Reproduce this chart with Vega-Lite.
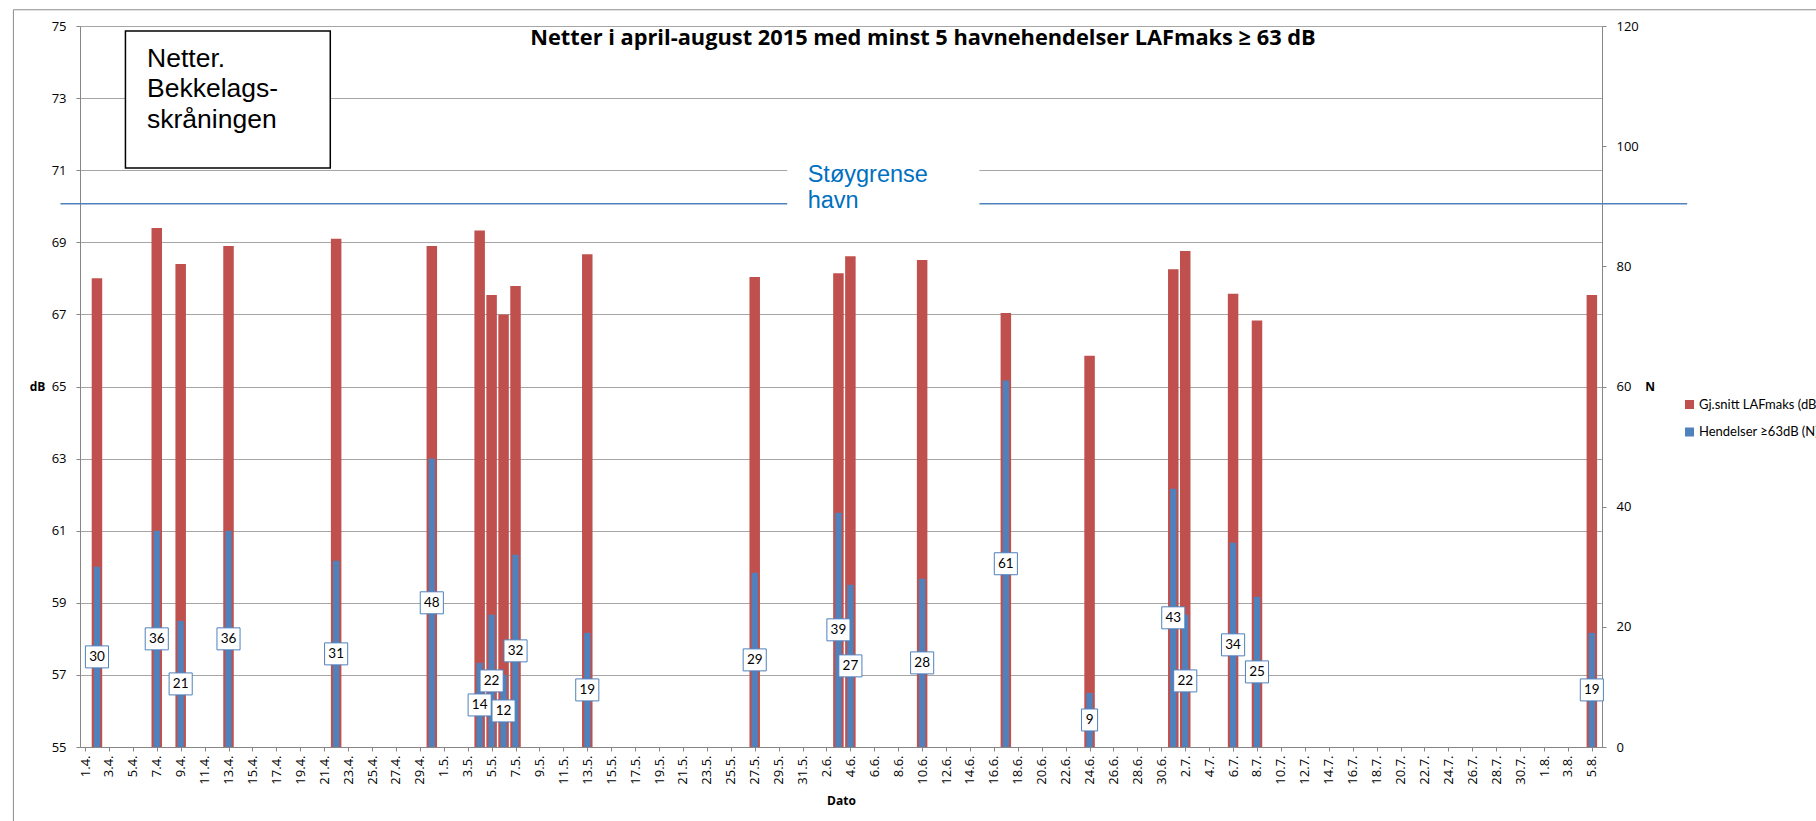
{
  "$schema": "https://vega.github.io/schema/vega-lite/v6.json",
  "width": 1522,
  "height": 721,
  "autosize": {"type": "none"},
  "padding": {"left": 80, "top": 26, "right": 214, "bottom": 74},
  "background": "white",
  "config": {
    "font": "Lato",
    "view": {"stroke": null},
    "axis": {
      "labelFont": "Open Sans", "labelFontSize": 13, "labelColor": "#000000",
      "domainColor": "#868686", "tickColor": "#868686", "tickSize": 4,
      "titleFont": "Open Sans", "titleFontSize": 12, "titleFontWeight": "bold", "titleColor": "#000000",
      "gridColor": "#A6A6A6", "gridWidth": 1
    },
    "axisX": {"labelOverlap": false, "labelBound": false}
  },
  "title": {
    "text": "Netter i april-august 2015 med minst 5 havnehendelser LAFmaks ≥ 63 dB",
    "font": "Open Sans", "fontSize": 21.8, "fontWeight": "bold", "color": "#000000",
    "anchor": "middle", "frame": "group", "baseline": "alphabetic", "offset": -19, "dx": 82, "dy": 39
  },
  "datasets": {
    "nights": [
      {"date": "2015-04-02", "dB": 68.0, "N": 30},
      {"date": "2015-04-07", "dB": 69.4, "N": 36},
      {"date": "2015-04-09", "dB": 68.4, "N": 21},
      {"date": "2015-04-13", "dB": 68.9, "N": 36},
      {"date": "2015-04-22", "dB": 69.1, "N": 31},
      {"date": "2015-04-30", "dB": 68.9, "N": 48},
      {"date": "2015-05-04", "dB": 69.33, "N": 14},
      {"date": "2015-05-05", "dB": 67.54, "N": 22},
      {"date": "2015-05-06", "dB": 67.0, "N": 12},
      {"date": "2015-05-07", "dB": 67.79, "N": 32},
      {"date": "2015-05-13", "dB": 68.67, "N": 19},
      {"date": "2015-05-27", "dB": 68.04, "N": 29},
      {"date": "2015-06-03", "dB": 68.14, "N": 39},
      {"date": "2015-06-04", "dB": 68.61, "N": 27},
      {"date": "2015-06-10", "dB": 68.51, "N": 28},
      {"date": "2015-06-17", "dB": 67.04, "N": 61},
      {"date": "2015-06-24", "dB": 65.85, "N": 9},
      {"date": "2015-07-01", "dB": 68.25, "N": 43},
      {"date": "2015-07-02", "dB": 68.76, "N": 22},
      {"date": "2015-07-06", "dB": 67.57, "N": 34},
      {"date": "2015-07-08", "dB": 66.83, "N": 25},
      {"date": "2015-08-05", "dB": 67.54, "N": 19}
    ],
    "frame": [{"x1": "2015-03-26T00:20:00Z", "x2": "2015-10-31T00:00:00Z", "y1": 75.45, "y2": 30}],
    "limit": [{"x1": "2015-03-29T22:48:00Z", "x2": "2015-08-12T23:20:00Z", "dB": 70.07}],
    "gap": [{"x1": "2015-05-29T17:16:00Z", "x2": "2015-06-14T19:00:00Z", "y1": 71.4, "y2": 69.75}],
    "stoy": [{"x": "2015-05-31T10:20:00Z", "dB": 70.68, "text": ["Støygrense", "havn"]}],
    "box": [{"x1": "2015-04-04T09:10:00Z", "x2": "2015-04-21T12:15:00Z", "y1": 74.86, "y2": 71.06}],
    "boxtext": [{"x": "2015-04-06T04:30:00Z", "dB": 73.87, "text": ["Netter.", "Bekkelags-", "skråningen"]}]
  },
  "layer": [
    {
      "layer": [
        {
          "data": {"name": "nights"},
          "mark": {"type": "bar", "width": 10.5},
          "encoding": {
            "x": {
              "field": "date", "type": "temporal",
              "scale": {"type": "utc", "domain": [1427846400000, 1438770000000], "nice": false},
              "axis": {
                "title": "Dato", "titleY": 53, "titleBaseline": "middle", "tickCount": 200,
                "format": "%-d.%-m.", "labelAngle": -90, "labelPadding": 4, "labelOverlap": false, "labelBound": false, "grid": false,
                "values": [1427846400000,1428019200000,1428192000000,1428364800000,1428537600000,1428710400000,1428883200000,1429056000000,1429228800000,1429401600000,1429574400000,1429747200000,1429920000000,1430092800000,1430265600000,1430438400000,1430611200000,1430784000000,1430956800000,1431129600000,1431302400000,1431475200000,1431648000000,1431820800000,1431993600000,1432166400000,1432339200000,1432512000000,1432684800000,1432857600000,1433030400000,1433203200000,1433376000000,1433548800000,1433721600000,1433894400000,1434067200000,1434240000000,1434412800000,1434585600000,1434758400000,1434931200000,1435104000000,1435276800000,1435449600000,1435622400000,1435795200000,1435968000000,1436140800000,1436313600000,1436486400000,1436659200000,1436832000000,1437004800000,1437177600000,1437350400000,1437523200000,1437696000000,1437868800000,1438041600000,1438214400000,1438387200000,1438560000000,1438732800000]
              }
            },
            "y": {
              "field": "dB", "type": "quantitative",
              "scale": {"domain": [55, 75], "nice": false, "zero": false},
              "axis": {
                "orient": "left", "values": [55, 57, 59, 61, 63, 65, 67, 69, 71, 73, 75], "grid": true,
                "labelPadding": 10, "title": "dB", "titleAngle": 0, "titleX": -43, "titleY": 360.5,
                "titleAlign": "center", "titleBaseline": "middle"
              }
            },
            "y2": {"datum": 55},
            "color": {
              "datum": "Gj.snitt LAFmaks (dB)",
              "scale": {"domain": ["Gj.snitt LAFmaks (dB)", "Hendelser ≥63dB (N)"], "range": ["#C0504D", "#4F81BD"]},
              "legend": {
                "orient": "none", "legendX": 1603, "legendY": 372, "title": null, "padding": 0,
                "symbolType": "square", "symbolSize": 81, "symbolStrokeWidth": 0,
                "labelFont": "Lato", "labelFontSize": 13, "labelColor": "#000000", "labelOffset": 3, "rowPadding": 13.5, "labelLimit": 400
              }
            }
          }
        },
        {
          "data": {"name": "frame"},
          "mark": {"type": "rect", "fill": null, "stroke": "#8C8C8C", "strokeWidth": 1, "clip": false},
          "encoding": {
            "x": {"field": "x1", "type": "temporal", "scale": {"type": "utc", "domain": [1427846400000, 1438770000000], "nice": false}},
            "x2": {"field": "x2"},
            "y": {"field": "y1", "type": "quantitative", "scale": {"domain": [55, 75], "nice": false, "zero": false}},
            "y2": {"field": "y2"}
          }
        },
        {
          "data": {"name": "limit"},
          "mark": {"type": "rule", "color": "#4F81BD", "strokeWidth": 1.5, "clip": false},
          "encoding": {
            "x": {"field": "x1", "type": "temporal", "scale": {"type": "utc", "domain": [1427846400000, 1438770000000], "nice": false}},
            "x2": {"field": "x2"},
            "y": {"field": "dB", "type": "quantitative", "scale": {"domain": [55, 75], "nice": false, "zero": false}}
          }
        },
        {
          "data": {"name": "gap"},
          "mark": {"type": "rect", "fill": "white", "clip": false},
          "encoding": {
            "x": {"field": "x1", "type": "temporal", "scale": {"type": "utc", "domain": [1427846400000, 1438770000000], "nice": false}},
            "x2": {"field": "x2"},
            "y": {"field": "y1", "type": "quantitative", "scale": {"domain": [55, 75], "nice": false, "zero": false}},
            "y2": {"field": "y2"}
          }
        },
        {
          "data": {"name": "stoy"},
          "mark": {"type": "text", "font": "Liberation Sans", "fontSize": 23.5, "color": "#0070C0", "align": "left", "baseline": "alphabetic", "lineHeight": 26.6, "clip": false},
          "encoding": {
            "x": {"field": "x", "type": "temporal", "scale": {"type": "utc", "domain": [1427846400000, 1438770000000], "nice": false}},
            "y": {"field": "dB", "type": "quantitative", "scale": {"domain": [55, 75], "nice": false, "zero": false}},
            "text": {"field": "text"}
          }
        },
        {
          "data": {"name": "box"},
          "mark": {"type": "rect", "fill": "white", "stroke": "#000000", "strokeWidth": 1.5, "clip": false},
          "encoding": {
            "x": {"field": "x1", "type": "temporal", "scale": {"type": "utc", "domain": [1427846400000, 1438770000000], "nice": false}},
            "x2": {"field": "x2"},
            "y": {"field": "y1", "type": "quantitative", "scale": {"domain": [55, 75], "nice": false, "zero": false}},
            "y2": {"field": "y2"}
          }
        },
        {
          "data": {"name": "boxtext"},
          "mark": {"type": "text", "font": "Liberation Sans", "fontSize": 26.5, "color": "#000000", "align": "left", "baseline": "alphabetic", "lineHeight": 30.5, "clip": false},
          "encoding": {
            "x": {"field": "x", "type": "temporal", "scale": {"type": "utc", "domain": [1427846400000, 1438770000000], "nice": false}},
            "y": {"field": "dB", "type": "quantitative", "scale": {"domain": [55, 75], "nice": false, "zero": false}},
            "text": {"field": "text"}
          }
        }
      ]
    },
    {
      "data": {"name": "nights"},
      "mark": {"type": "bar", "width": 6.3},
      "encoding": {
        "x": {"field": "date", "type": "temporal", "scale": {"type": "utc", "domain": [1427846400000, 1438770000000], "nice": false}},
        "y": {
          "field": "N", "type": "quantitative",
          "scale": {"domain": [0, 120], "nice": false},
          "axis": {
            "orient": "right", "values": [0, 20, 40, 60, 80, 100, 120], "grid": false,
            "labelPadding": 10, "title": "N", "titleAngle": 0, "titleX": 47.5, "titleY": 360.5,
            "titleAlign": "center", "titleBaseline": "middle"
          }
        },
        "color": {"datum": "Hendelser ≥63dB (N)"}
      }
    },
    {
      "data": {"name": "nights"},
      "layer": [
        {
          "mark": {"type": "point", "filled": true, "fill": "white", "stroke": "#4F81BD", "strokeWidth": 1, "opacity": 1, "size": 484},
          "encoding": {
            "shape": {"condition": {"test": "datum.N < 10", "value": "M-0.73,-1H0.73V1H-0.73Z"}, "value": "M-1.05,-1H1.05V1H-1.05Z"}
          }
        },
        {
          "mark": {"type": "text", "font": "Lato", "fontSize": 13.5, "color": "#000000", "align": "center", "baseline": "middle"},
          "encoding": {"text": {"field": "N", "type": "quantitative"}}
        }
      ],
      "encoding": {
        "x": {"field": "date", "type": "temporal", "scale": {"type": "utc", "domain": [1427846400000, 1438770000000], "nice": false}},
        "y": {"field": "N", "type": "quantitative", "scale": {"domain": [0, 240], "nice": false}, "axis": null}
      }
    }
  ],
  "resolve": {"scale": {"y": "independent"}}
}
